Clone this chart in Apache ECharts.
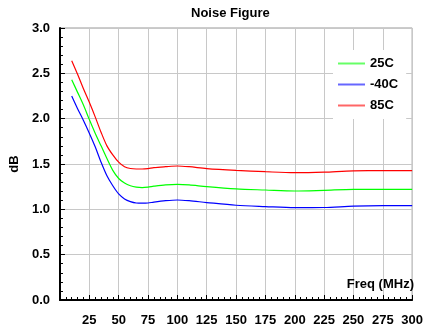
<!DOCTYPE html>
<html>
<head>
<meta charset="utf-8">
<script src="https://cdn.jsdelivr.net/npm/echarts@6/dist/echarts.min.js"></script>
<style>
  html, body { margin: 0; padding: 0; background: #fff; }
  #nf { width: 426px; height: 330px; }
</style>
</head>
<body>
<div id="nf"></div>
<script>
// frequency points (MHz)
var freq = [10, 15, 20, 25, 30, 35, 40, 45, 50, 55, 60, 65, 70, 75, 80, 90, 100, 110, 125, 150, 175, 200, 225, 250, 275, 300];
// noise figure (dB) per temperature
var nf25 = [2.43, 2.29, 2.15, 1.99, 1.84, 1.70, 1.56, 1.43, 1.34, 1.29, 1.26, 1.245, 1.24, 1.245, 1.255, 1.27, 1.276, 1.27, 1.25, 1.225, 1.213, 1.202, 1.21, 1.22, 1.22, 1.22];
var nfM40 = [2.25, 2.11, 1.98, 1.84, 1.69, 1.52, 1.37, 1.26, 1.17, 1.115, 1.085, 1.07, 1.068, 1.07, 1.08, 1.095, 1.103, 1.095, 1.075, 1.045, 1.03, 1.018, 1.02, 1.035, 1.04, 1.04];
var nf85 = [2.64, 2.49, 2.33, 2.18, 2.02, 1.85, 1.70, 1.60, 1.52, 1.47, 1.45, 1.445, 1.445, 1.45, 1.46, 1.47, 1.478, 1.47, 1.45, 1.43, 1.415, 1.404, 1.41, 1.425, 1.426, 1.426];
var seriesNames = ['25C', '-40C', '85C'];
var seriesColors = ['#00ff00', '#0000ff', '#ff0000'];

function pairs(ys) {
  return freq.map(function (f, i) { return [f, ys[i]]; });
}

var dom = document.getElementById('nf');
var myChart = echarts.init(dom);
var font = 'Liberation Sans, Arial, sans-serif';

var option = {
  backgroundColor: '#fff',
  animation: false,
  textStyle: { fontFamily: font },
  title: [
    {
      text: 'Noise Figure',
      left: 191,
      top: 7,
      padding: 0,
      textStyle: { fontSize: 13, fontWeight: 'bold', color: '#000', fontFamily: font }
    },
    {
      text: 'Freq (MHz)',
      right: 12,
      top: 278,
      padding: 0,
      textStyle: { fontSize: 13, fontWeight: 'bold', color: '#000', fontFamily: font }
    }
  ],
  legend: {
    left: 333,
    top: 50,
    orient: 'vertical',
    backgroundColor: '#fff',
    padding: [7, 8, 7, 5],
    icon: 'rect',
    itemWidth: 27,
    itemHeight: 2,
    itemGap: 8,
    itemStyle: { opacity: 0.6 },
    textStyle: { fontSize: 13, fontWeight: 'bold', color: '#000', fontFamily: font },
    data: seriesNames
  },
  grid: {
    left: 56,
    right: 10,
    top: 28,
    bottom: 30,
    show: true,
    borderColor: '#999',
    borderWidth: 1
  },
  xAxis: {
    type: 'value',
    min: 0,
    max: 300,
    interval: 25,
    axisLine: { onZero: false, lineStyle: { color: '#000', width: 2 } },
    axisTick: { inside: true, length: 5, lineStyle: { color: '#000' } },
    minorTick: { show: true, splitNumber: 5, length: 3, lineStyle: { color: '#000' } },
    splitLine: { show: true, lineStyle: { color: '#c8c8c8', width: 1 } },
    axisLabel: {
      margin: 14,
      color: '#000',
      fontSize: 13,
      fontWeight: 'bold',
      fontFamily: font,
      formatter: function (v) { return v === 0 ? '' : v; }
    }
  },
  yAxis: {
    type: 'value',
    min: 0,
    max: 3,
    interval: 0.5,
    name: 'dB',
    nameLocation: 'middle',
    nameGap: 38,
    nameTextStyle: { fontSize: 13, fontWeight: 'bold', color: '#000', fontFamily: font },
    axisLine: { show: true, lineStyle: { color: '#000', width: 2 } },
    axisTick: { inside: true, length: 5, lineStyle: { color: '#000' } },
    minorTick: { show: true, splitNumber: 5, length: 3, lineStyle: { color: '#000' } },
    splitLine: { show: true, lineStyle: { color: '#c8c8c8', width: 1 } },
    axisLabel: {
      margin: 10,
      color: '#000',
      fontSize: 13,
      fontWeight: 'bold',
      fontFamily: font,
      formatter: function (v) { return v.toFixed(1); }
    }
  },
  series: [nf25, nfM40, nf85].map(function (ys, i) {
    return {
      name: seriesNames[i],
      type: 'line',
      symbol: 'none',
      smooth: 0.3,
      color: seriesColors[i],
      lineStyle: { color: seriesColors[i], width: 1.2 },
      data: pairs(ys)
    };
  })
};

if (option && typeof option === 'object') {
  myChart.setOption(option);
}
</script>
</body>
</html>
